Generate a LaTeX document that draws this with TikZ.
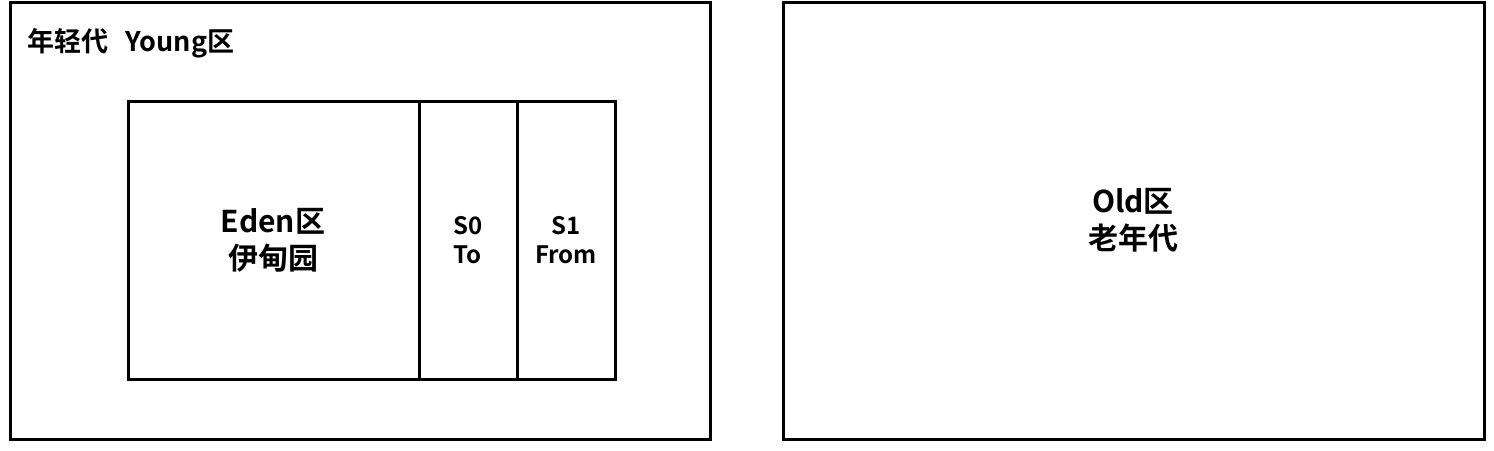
\documentclass[tikz,border=0pt]{standalone}
\usepackage{fontspec}
\setmainfont{Noto Sans CJK SC}[BoldFont={* Bold}]
\begin{document}
\begin{tikzpicture}[x=1pt,y=-1pt,
  box/.style={draw=black,line width=3pt,fill=none},
  big/.style={font=\bfseries\fontsize{30}{37}\selectfont,align=center,inner sep=0pt},
  small/.style={font=\bfseries\fontsize{24}{29}\selectfont,align=center,inner sep=0pt},
  title/.style={font=\bfseries\fontsize{27}{30}\selectfont,anchor=west,inner sep=0pt}]
\useasboundingbox (0,0) rectangle (1494,450);
\draw[box] (10,2) rectangle (710,439);
\draw[box] (783,2) rectangle (1484,439);
\draw[box] (128,101) rectangle (615,379);
\draw[box] (419,101) -- (419,379);
\draw[box] (517,101) -- (517,379);
\node[title] (young) at (27,43) {年轻代\hspace{0.65em}Young区};
\node[big] (eden) at (273,240) {Eden区\\伊甸园};
\node[small] (s0) at (468,240) {S0\\To};
\node[small] (s1) at (566,240) {S1\\From};
\node[big] (old) at (1133,220) {Old区\\老年代};
\end{tikzpicture}
\end{document}
